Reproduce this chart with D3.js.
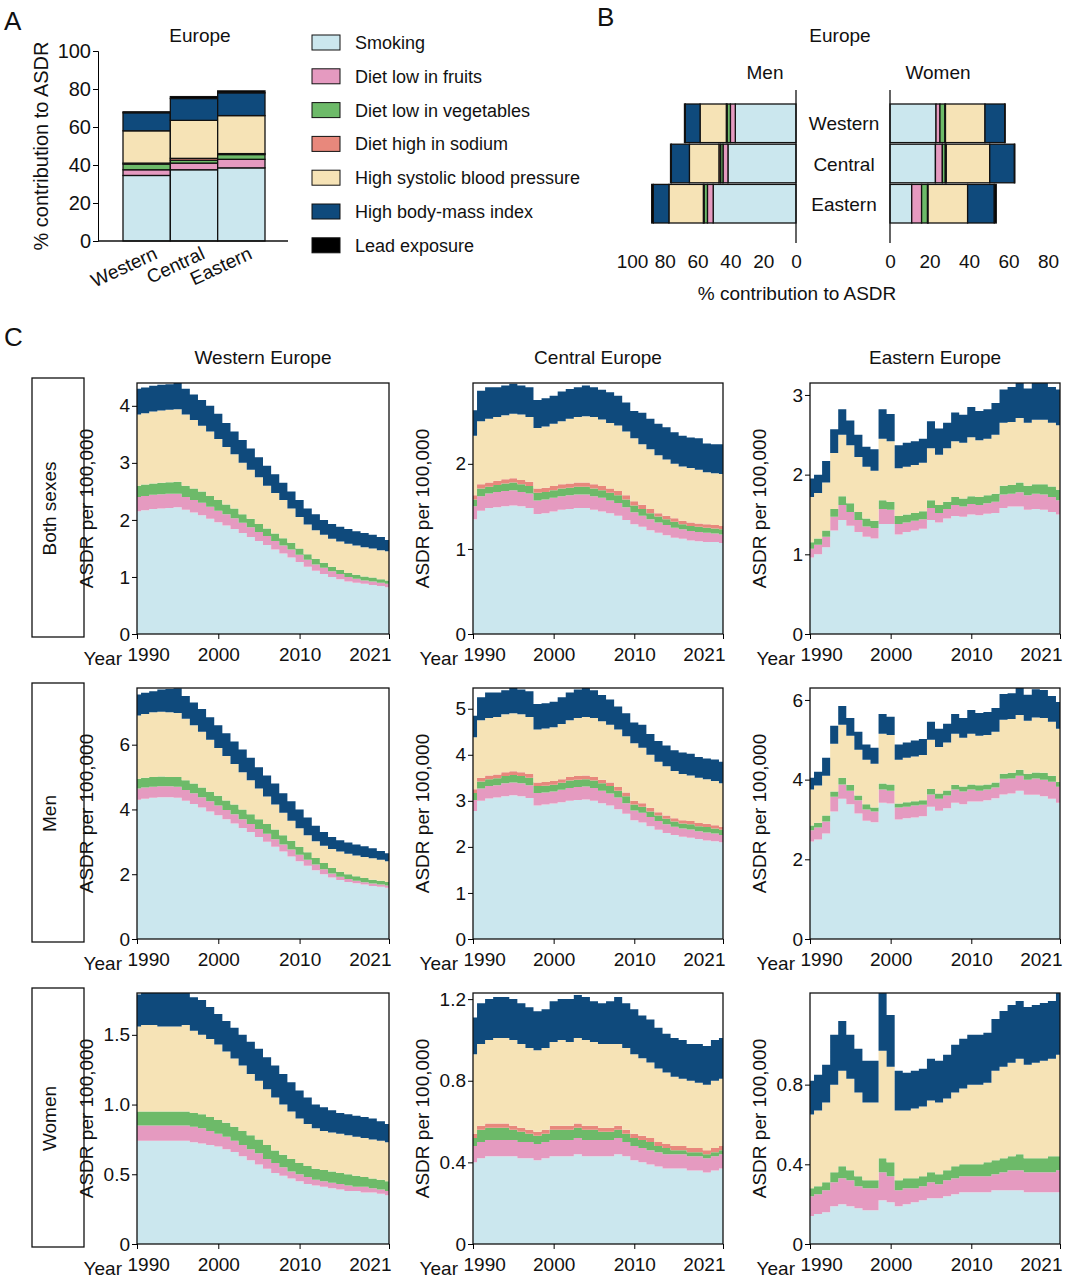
<!DOCTYPE html>
<html lang="en">
<head>
<meta charset="UTF-8">
<title>Europe ASDR risk factors</title>
<script src="https://d3js.org/d3.v7.min.js"></script>
<style>
  body { margin: 0; background: #fff; }
  text { font-family: Arial, "Liberation Sans", sans-serif; fill: #111; }
</style>
</head>
<body>
<svg width="1071" height="1280"></svg>
<script>
// risk factors (order = stack order)
var risks = ["Smoking", "Diet low in fruits", "Diet low in vegetables", "Diet high in sodium",
             "High systolic blood pressure", "High body-mass index", "Lead exposure"];
var colors = ["#cbe7ee", "#e59ac0", "#6dba69", "#e8887c", "#f6e3b6", "#0f4a7c", "#000000"];
var regions = ["Western", "Central", "Eastern"];

// panel A: % contribution, both sexes (per risk, by region)
var aValues = [
  [34.5, 3, 3, 0.5, 17, 9.5, 0.5],
  [37.5, 3.5, 1.5, 1, 20, 11.5, 1],
  [38.5, 4.5, 2.5, 0.5, 20, 12, 1]
];
// panel B
var bMen = [
  [37, 3, 2, 0.5, 16, 9, 0.5],
  [41.5, 3, 1.5, 1, 18, 11, 0.5],
  [50.5, 3.5, 2, 0.5, 21, 9.5, 1]
];
var bWomen = [
  [23.3, 2, 2.5, 0.3, 20, 10, 0.2],
  [23, 3.5, 1.5, 0.5, 22, 12.5, 0.2],
  [11, 5, 3, 0.3, 20, 13.5, 1]
];

// panel C: cumulative top of each layer (ASDR per 100,000), 1990..2021
var years = d3.range(1990, 2022);
var bothWestern = {
  smoking:[2.15,2.17,2.19,2.2,2.21,2.22,2.18,2.13,2.08,2.02,1.96,1.9,1.84,1.77,1.7,1.63,1.56,1.48,1.41,1.34,1.26,1.18,1.11,1.05,1.0,0.96,0.92,0.9,0.88,0.86,0.84,0.82],
  fruits:[2.4,2.42,2.44,2.45,2.46,2.46,2.4,2.35,2.3,2.23,2.16,2.1,2.03,1.95,1.87,1.79,1.72,1.63,1.55,1.48,1.39,1.3,1.22,1.16,1.1,1.05,1.0,0.97,0.94,0.92,0.9,0.88],
  veg:[2.6,2.62,2.64,2.65,2.66,2.67,2.6,2.55,2.5,2.42,2.35,2.27,2.2,2.1,2.02,1.93,1.85,1.76,1.68,1.6,1.5,1.4,1.32,1.25,1.18,1.12,1.07,1.04,1.01,0.99,0.96,0.94],
  sodium:null,
  sbp:[3.85,3.87,3.9,3.92,3.93,3.94,3.85,3.75,3.65,3.55,3.42,3.28,3.15,3.0,2.88,2.75,2.6,2.47,2.35,2.2,2.05,1.92,1.82,1.74,1.67,1.62,1.58,1.55,1.52,1.5,1.47,1.45],
  bmi:[4.3,4.32,4.35,4.37,4.38,4.4,4.3,4.2,4.1,4.0,3.86,3.7,3.55,3.4,3.25,3.1,2.95,2.8,2.65,2.5,2.35,2.2,2.1,2.0,1.93,1.88,1.84,1.8,1.77,1.74,1.7,1.65],
  max:4.4, ticks:[0,1,2,3,4], fmt:"d"
};
var bothCentral = {
  smoking:[1.35,1.45,1.48,1.49,1.5,1.51,1.5,1.48,1.41,1.42,1.44,1.46,1.47,1.48,1.48,1.46,1.44,1.42,1.39,1.34,1.29,1.26,1.22,1.19,1.16,1.13,1.12,1.1,1.09,1.08,1.08,1.07],
  fruits:[1.5,1.62,1.65,1.67,1.68,1.69,1.67,1.65,1.57,1.58,1.6,1.62,1.63,1.64,1.64,1.62,1.6,1.57,1.54,1.49,1.43,1.39,1.35,1.31,1.28,1.25,1.23,1.21,1.2,1.19,1.18,1.17],
  veg:[1.58,1.71,1.73,1.75,1.77,1.78,1.76,1.74,1.66,1.67,1.69,1.71,1.72,1.73,1.73,1.71,1.69,1.66,1.63,1.58,1.51,1.47,1.42,1.38,1.35,1.32,1.29,1.27,1.26,1.25,1.24,1.23],
  sodium:[1.63,1.76,1.78,1.8,1.82,1.83,1.81,1.79,1.71,1.72,1.74,1.76,1.77,1.78,1.78,1.76,1.74,1.71,1.68,1.63,1.56,1.52,1.47,1.42,1.39,1.36,1.33,1.31,1.3,1.29,1.28,1.27],
  sbp:[2.33,2.5,2.53,2.55,2.57,2.59,2.58,2.55,2.42,2.44,2.47,2.5,2.53,2.55,2.56,2.55,2.52,2.48,2.45,2.38,2.3,2.23,2.17,2.1,2.05,2.0,1.97,1.95,1.93,1.9,1.89,1.88],
  bmi:[2.63,2.86,2.9,2.9,2.92,2.94,2.92,2.9,2.75,2.77,2.8,2.85,2.88,2.9,2.92,2.9,2.87,2.84,2.8,2.72,2.62,2.6,2.53,2.47,2.43,2.37,2.33,2.31,2.3,2.24,2.23,2.23],
  max:2.95, ticks:[0,1,2], fmt:"d"
};
var bothEastern = {
  smoking:[0.96,1.0,1.09,1.3,1.43,1.36,1.28,1.22,1.2,1.38,1.38,1.25,1.28,1.3,1.32,1.43,1.4,1.45,1.48,1.47,1.5,1.49,1.51,1.52,1.58,1.6,1.6,1.56,1.57,1.56,1.53,1.5],
  fruits:[1.07,1.12,1.22,1.47,1.62,1.53,1.43,1.35,1.33,1.57,1.56,1.38,1.4,1.42,1.44,1.58,1.52,1.57,1.62,1.6,1.63,1.62,1.64,1.66,1.75,1.76,1.78,1.74,1.76,1.75,1.72,1.68],
  veg:[1.15,1.2,1.3,1.57,1.73,1.64,1.53,1.45,1.42,1.68,1.66,1.48,1.5,1.52,1.54,1.68,1.62,1.66,1.72,1.7,1.73,1.72,1.74,1.76,1.86,1.87,1.9,1.86,1.88,1.88,1.85,1.81],
  sodium:null,
  sbp:[1.72,1.77,1.9,2.27,2.5,2.37,2.22,2.1,2.05,2.45,2.42,2.08,2.1,2.12,2.15,2.33,2.25,2.33,2.42,2.4,2.47,2.43,2.45,2.5,2.65,2.66,2.71,2.65,2.69,2.69,2.65,2.62],
  bmi:[1.95,2.0,2.17,2.57,2.82,2.68,2.5,2.35,2.32,2.82,2.76,2.37,2.4,2.42,2.45,2.67,2.58,2.65,2.78,2.75,2.85,2.8,2.82,2.9,3.07,3.1,3.16,3.08,3.15,3.15,3.1,3.07],
  max:3.15, ticks:[0,1,2,3], fmt:"d"
};
var menWestern = {
  smoking:[4.3,4.33,4.36,4.38,4.38,4.36,4.27,4.17,4.06,3.94,3.82,3.7,3.57,3.43,3.3,3.15,3.0,2.85,2.7,2.55,2.4,2.26,2.12,2.0,1.9,1.82,1.76,1.72,1.68,1.64,1.61,1.58],
  fruits:[4.65,4.68,4.7,4.72,4.72,4.7,4.6,4.5,4.38,4.25,4.12,3.98,3.85,3.7,3.55,3.4,3.25,3.08,2.92,2.76,2.6,2.45,2.3,2.15,2.02,1.92,1.85,1.8,1.75,1.71,1.68,1.65],
  veg:[4.95,4.98,5.0,5.02,5.0,5.0,4.9,4.8,4.68,4.55,4.42,4.28,4.15,4.0,3.85,3.7,3.55,3.38,3.2,3.03,2.85,2.68,2.5,2.35,2.2,2.08,2.0,1.94,1.88,1.83,1.8,1.76],
  sodium:null,
  sbp:[6.9,6.95,7.0,7.02,7.0,6.98,6.8,6.6,6.4,6.15,5.9,5.65,5.4,5.15,4.9,4.65,4.4,4.15,3.9,3.65,3.42,3.2,3.02,2.88,2.78,2.7,2.63,2.58,2.53,2.49,2.45,2.4],
  bmi:[7.55,7.6,7.65,7.7,7.72,7.74,7.5,7.3,7.1,6.85,6.6,6.35,6.1,5.85,5.6,5.3,5.05,4.8,4.5,4.25,4.0,3.75,3.5,3.3,3.15,3.05,2.98,2.92,2.86,2.8,2.72,2.65],
  max:7.75, ticks:[0,2,4,6], fmt:"d"
};
var menCentral = {
  smoking:[2.78,3.0,3.05,3.07,3.1,3.12,3.1,3.06,2.9,2.92,2.94,2.97,3.0,3.02,3.03,3.0,2.95,2.9,2.82,2.72,2.58,2.53,2.45,2.37,2.3,2.26,2.22,2.2,2.17,2.14,2.12,2.1],
  fruits:[3.02,3.27,3.32,3.34,3.38,3.4,3.38,3.34,3.17,3.18,3.2,3.24,3.28,3.3,3.31,3.28,3.22,3.16,3.07,2.95,2.79,2.74,2.65,2.56,2.49,2.44,2.4,2.38,2.34,2.31,2.29,2.26],
  veg:[3.17,3.42,3.47,3.49,3.54,3.56,3.54,3.5,3.32,3.33,3.35,3.39,3.44,3.46,3.47,3.44,3.38,3.32,3.22,3.1,2.92,2.87,2.77,2.68,2.61,2.55,2.51,2.49,2.45,2.43,2.4,2.37],
  sodium:[3.25,3.5,3.55,3.57,3.62,3.64,3.62,3.58,3.4,3.41,3.43,3.47,3.52,3.54,3.55,3.52,3.46,3.4,3.3,3.18,3.0,2.95,2.85,2.75,2.68,2.62,2.58,2.56,2.52,2.5,2.47,2.44],
  sbp:[4.38,4.75,4.8,4.82,4.88,4.9,4.88,4.82,4.55,4.57,4.6,4.67,4.75,4.8,4.82,4.8,4.73,4.65,4.55,4.4,4.25,4.15,4.0,3.85,3.75,3.65,3.58,3.55,3.5,3.47,3.43,3.38],
  bmi:[4.85,5.25,5.35,5.35,5.4,5.45,5.42,5.38,5.1,5.12,5.15,5.25,5.35,5.42,5.45,5.4,5.3,5.2,5.05,4.9,4.7,4.65,4.45,4.3,4.2,4.1,4.05,4.02,3.95,3.92,3.9,3.85],
  max:5.45, ticks:[0,1,2,3,4,5], fmt:"d"
};
var menEastern = {
  smoking:[2.45,2.5,2.65,3.2,3.52,3.38,3.15,2.97,2.93,3.42,3.4,3.0,3.03,3.05,3.08,3.32,3.22,3.28,3.42,3.38,3.45,3.45,3.48,3.53,3.63,3.65,3.72,3.62,3.62,3.58,3.52,3.42],
  fruits:[2.73,2.8,2.95,3.57,3.88,3.72,3.48,3.25,3.2,3.75,3.72,3.3,3.32,3.35,3.37,3.63,3.52,3.6,3.75,3.7,3.75,3.72,3.75,3.8,4.02,4.03,4.1,4.0,4.03,4.0,3.95,3.82],
  veg:[2.85,2.92,3.1,3.7,4.05,3.87,3.6,3.38,3.3,3.9,3.88,3.4,3.43,3.46,3.48,3.77,3.65,3.73,3.87,3.83,3.88,3.86,3.88,3.93,4.15,4.17,4.25,4.15,4.18,4.17,4.1,3.95],
  sodium:null,
  sbp:[3.75,3.85,4.1,4.9,5.38,5.1,4.75,4.5,4.4,5.15,5.12,4.5,4.55,4.58,4.62,5.0,4.82,4.93,5.15,5.05,5.15,5.1,5.12,5.2,5.5,5.52,5.62,5.48,5.56,5.55,5.45,5.28],
  bmi:[4.05,4.2,4.55,5.35,5.85,5.55,5.2,4.88,4.8,5.65,5.58,4.88,4.93,4.98,5.02,5.45,5.28,5.4,5.65,5.55,5.75,5.67,5.7,5.8,6.15,6.17,6.3,6.13,6.27,6.25,6.1,5.95],
  max:6.3, ticks:[0,2,4,6], fmt:"d"
};
var womenWestern = {
  smoking:[0.74,0.74,0.74,0.74,0.74,0.74,0.74,0.73,0.72,0.71,0.7,0.68,0.66,0.63,0.6,0.57,0.54,0.51,0.49,0.47,0.45,0.43,0.42,0.41,0.4,0.39,0.38,0.38,0.37,0.37,0.36,0.35],
  fruits:[0.85,0.85,0.85,0.85,0.85,0.85,0.85,0.84,0.83,0.81,0.79,0.77,0.74,0.71,0.68,0.65,0.61,0.58,0.55,0.52,0.5,0.48,0.46,0.45,0.44,0.43,0.42,0.41,0.41,0.4,0.39,0.38],
  veg:[0.95,0.95,0.95,0.95,0.95,0.95,0.95,0.94,0.93,0.91,0.89,0.87,0.84,0.81,0.78,0.75,0.71,0.67,0.64,0.61,0.58,0.56,0.54,0.53,0.52,0.51,0.5,0.49,0.48,0.47,0.46,0.45],
  sodium:null,
  sbp:[1.56,1.57,1.57,1.56,1.56,1.56,1.57,1.53,1.5,1.47,1.43,1.38,1.33,1.28,1.22,1.17,1.11,1.05,1.0,0.95,0.9,0.86,0.83,0.81,0.8,0.79,0.78,0.77,0.76,0.75,0.74,0.73],
  bmi:[1.79,1.8,1.8,1.8,1.8,1.8,1.8,1.77,1.75,1.7,1.65,1.6,1.55,1.5,1.45,1.4,1.34,1.28,1.22,1.16,1.1,1.05,1.0,0.98,0.96,0.94,0.93,0.92,0.91,0.9,0.88,0.86],
  max:1.8, ticks:[0,0.5,1.0,1.5], fmt:".1f"
};
var womenCentral = {
  smoking:[0.4,0.42,0.43,0.43,0.43,0.43,0.42,0.42,0.41,0.42,0.43,0.43,0.43,0.44,0.43,0.43,0.43,0.43,0.44,0.43,0.41,0.4,0.39,0.38,0.37,0.37,0.37,0.36,0.36,0.35,0.36,0.37],
  fruits:[0.48,0.5,0.51,0.51,0.51,0.51,0.5,0.5,0.49,0.5,0.51,0.51,0.51,0.52,0.51,0.51,0.51,0.51,0.52,0.5,0.48,0.47,0.46,0.45,0.44,0.44,0.44,0.43,0.43,0.42,0.43,0.44],
  veg:[0.52,0.56,0.57,0.57,0.57,0.56,0.55,0.54,0.53,0.54,0.56,0.56,0.56,0.57,0.56,0.56,0.55,0.55,0.56,0.54,0.52,0.51,0.5,0.48,0.47,0.46,0.46,0.45,0.45,0.44,0.45,0.46],
  sodium:[0.54,0.58,0.59,0.59,0.59,0.58,0.57,0.56,0.55,0.56,0.58,0.58,0.58,0.59,0.58,0.58,0.57,0.57,0.58,0.56,0.54,0.53,0.52,0.5,0.49,0.48,0.48,0.47,0.47,0.46,0.47,0.48],
  sbp:[0.93,0.98,1.0,1.01,1.01,1.0,0.98,0.96,0.95,0.96,0.99,1.0,0.99,1.01,1.0,0.99,0.98,0.98,0.98,0.96,0.93,0.91,0.89,0.86,0.84,0.82,0.81,0.8,0.79,0.78,0.8,0.81],
  bmi:[1.11,1.18,1.2,1.21,1.21,1.2,1.18,1.16,1.14,1.15,1.19,1.2,1.2,1.22,1.21,1.19,1.18,1.19,1.21,1.18,1.15,1.12,1.1,1.06,1.03,1.01,1.0,0.98,0.98,0.97,1.0,1.01],
  max:1.23, ticks:[0,0.4,0.8,1.2], fmt:".1f"
};
var womenEastern = {
  smoking:[0.14,0.15,0.16,0.19,0.2,0.19,0.18,0.17,0.17,0.22,0.21,0.19,0.2,0.21,0.22,0.23,0.23,0.24,0.25,0.26,0.26,0.26,0.26,0.27,0.27,0.27,0.27,0.26,0.26,0.26,0.26,0.26],
  fruits:[0.24,0.25,0.27,0.31,0.33,0.32,0.29,0.28,0.28,0.36,0.34,0.27,0.28,0.28,0.29,0.31,0.3,0.32,0.33,0.34,0.34,0.34,0.34,0.35,0.36,0.37,0.37,0.36,0.36,0.36,0.36,0.37],
  veg:[0.28,0.29,0.31,0.36,0.39,0.37,0.34,0.32,0.32,0.43,0.41,0.32,0.33,0.33,0.34,0.36,0.35,0.37,0.39,0.4,0.4,0.4,0.41,0.42,0.43,0.44,0.45,0.43,0.43,0.43,0.44,0.44],
  sodium:null,
  sbp:[0.65,0.67,0.71,0.8,0.87,0.83,0.76,0.71,0.71,0.97,0.89,0.67,0.67,0.68,0.69,0.72,0.71,0.73,0.76,0.78,0.8,0.8,0.81,0.87,0.89,0.91,0.93,0.9,0.91,0.92,0.93,0.95],
  bmi:[0.82,0.85,0.9,1.05,1.12,1.05,0.98,0.92,0.92,1.26,1.15,0.87,0.86,0.87,0.88,0.93,0.92,0.95,1.0,1.03,1.05,1.05,1.06,1.13,1.17,1.2,1.22,1.19,1.2,1.21,1.22,1.26],
  max:1.26, ticks:[0,0.4,0.8], fmt:".1f"
};

var svg = d3.select("svg");
var font = 19;

// ---------- panel A ----------
svg.append("text").attr("x", 4).attr("y", 30).text("A").style("font-size", "26px");
var aX = d3.scaleBand().domain(regions).range([123, 265]).paddingInner(0);
var aY = d3.scaleLinear().domain([0, 100]).range([241, 51]);
var gA = svg.append("g");
aValues.forEach(function (vals, i) {
  var acc = 0;
  vals.forEach(function (v, k) {
    gA.append("rect").attr("x", aX(regions[i])).attr("width", aX.bandwidth())
      .attr("y", aY(acc + v)).attr("height", aY(acc) - aY(acc + v))
      .attr("fill", colors[k]).attr("stroke", "#111").attr("stroke-width", 1.3);
    acc += v;
  });
});
var axA = svg.append("g").attr("transform", "translate(98,0)")
  .call(d3.axisLeft(aY).tickValues([0, 20, 40, 60, 80, 100]).tickSize(5).tickPadding(2));
axA.selectAll("text").style("font-size", "20px");
svg.append("line").attr("x1", 98).attr("x2", 288).attr("y1", 241).attr("y2", 241).attr("stroke", "#111").attr("stroke-width", 1.3);
svg.append("text").attr("transform", "translate(48,146) rotate(-90)").attr("text-anchor", "middle")
  .text("% contribution to ASDR").style("font-size", "20px");
svg.append("text").attr("x", 200).attr("y", 42).attr("text-anchor", "middle").text("Europe").style("font-size", font + "px");
regions.forEach(function (r) {
  var cx = aX(r) + aX.bandwidth() / 2 + 12;
  svg.append("text").attr("transform", "translate(" + cx + ",258) rotate(-25)").attr("text-anchor", "end")
    .text(r).style("font-size", font + "px");
});

// legend
risks.forEach(function (r, k) {
  var y = 43 + k * 33.8;
  svg.append("rect").attr("x", 312).attr("y", y - 8).attr("width", 28).attr("height", 15)
    .attr("fill", colors[k]).attr("stroke", "#111").attr("stroke-width", 1);
  svg.append("text").attr("x", 355).attr("y", y + 6).text(r).style("font-size", "18px");
});

// ---------- panel B ----------
svg.append("text").attr("x", 597).attr("y", 26).text("B").style("font-size", "26px");
svg.append("text").attr("x", 840).attr("y", 42).attr("text-anchor", "middle").text("Europe").style("font-size", font + "px");
svg.append("text").attr("x", 765).attr("y", 79).attr("text-anchor", "middle").text("Men").style("font-size", font + "px");
svg.append("text").attr("x", 938).attr("y", 79).attr("text-anchor", "middle").text("Women").style("font-size", font + "px");
var bY = d3.scaleBand().domain(regions).range([104, 223]).paddingInner(0.04);
var xMen = d3.scaleLinear().domain([0, 100]).range([796, 632]);
var xWomen = d3.scaleLinear().domain([0, 80]).range([890, 1048]);
function drawB(data, xs) {
  data.forEach(function (vals, i) {
    var acc = 0;
    vals.forEach(function (v, k) {
      var x0 = xs(acc), x1 = xs(acc + v);
      svg.append("rect").attr("x", Math.min(x0, x1)).attr("width", Math.abs(x1 - x0))
        .attr("y", bY(regions[i])).attr("height", bY.bandwidth())
        .attr("fill", colors[k]).attr("stroke", "#111").attr("stroke-width", 1.3);
      acc += v;
    });
  });
}
drawB(bMen, xMen);
drawB(bWomen, xWomen);
var axM = svg.append("g").attr("transform", "translate(0,243)")
  .call(d3.axisBottom(xMen).tickValues([0, 20, 40, 60, 80, 100]).tickSize(0).tickPadding(12));
var axW = svg.append("g").attr("transform", "translate(0,243)")
  .call(d3.axisBottom(xWomen).tickValues([0, 20, 40, 60, 80]).tickSize(0).tickPadding(12));
[axM, axW].forEach(function (g) { g.select(".domain").remove(); g.selectAll("text").style("font-size", font + "px"); });
[796, 890].forEach(function (x) {
  svg.append("line").attr("x1", x).attr("x2", x).attr("y1", 90).attr("y2", 243).attr("stroke", "#111").attr("stroke-width", 1.3);
});
regions.forEach(function (r) {
  svg.append("text").attr("x", 844).attr("y", bY(r) + bY.bandwidth() / 2 + 7).attr("text-anchor", "middle")
    .text(r).style("font-size", font + "px");
});
svg.append("text").attr("x", 797).attr("y", 300).attr("text-anchor", "middle").text("% contribution to ASDR").style("font-size", font + "px");

// ---------- panel C ----------
svg.append("text").attr("x", 4).attr("y", 346).text("C").style("font-size", "26px");
var cols = [{x0: 137, x1: 389, title: "Western Europe"}, {x0: 473, x1: 723, title: "Central Europe"}, {x0: 810, x1: 1060, title: "Eastern Europe"}];
var rows = [{y0: 383, y1: 634, label: "Both sexes"}, {y0: 688, y1: 939, label: "Men"}, {y0: 993, y1: 1244, label: "Women"}];
var panels = [[bothWestern, bothCentral, bothEastern], [menWestern, menCentral, menEastern], [womenWestern, womenCentral, womenEastern]];
var layerKeys = ["smoking", "fruits", "veg", "sodium", "sbp", "bmi"];

cols.forEach(function (c) {
  svg.append("text").attr("x", (c.x0 + c.x1) / 2).attr("y", 364).attr("text-anchor", "middle").text(c.title).style("font-size", font + "px");
});
rows.forEach(function (r) {
  svg.append("rect").attr("x", 32).attr("y", r.y0 - 5).attr("width", 52).attr("height", r.y1 - r.y0 + 8)
    .attr("fill", "none").attr("stroke", "#111").attr("stroke-width", 1.3);
  svg.append("text").attr("transform", "translate(" + 56 + "," + ((r.y0 + r.y1) / 2) + ") rotate(-90)")
    .attr("text-anchor", "middle").text(r.label).style("font-size", font + "px");
});

panels.forEach(function (row, ri) {
  row.forEach(function (p, ci) {
    var c = cols[ci], r = rows[ri];
    var x = d3.scaleLinear().domain([1990, 2021]).range([c.x0, c.x1]);
    var y = d3.scaleLinear().domain([0, p.max]).range([r.y1, r.y0]);
    var g = svg.append("g");
    var prev = null;
    layerKeys.forEach(function (key, k) {
      var top = p[key];
      if (!top) return;
      var base = prev;
      var area = d3.area().curve(d3.curveStep)
        .x(function (d, i) { return x(years[i]); })
        .y0(function (d, i) { return y(base ? base[i] : 0); })
        .y1(function (d) { return y(Math.min(d, p.max)); });
      g.append("path").datum(top).attr("d", area).attr("fill", colors[k]);
      prev = top;
    });
    g.append("rect").attr("x", c.x0).attr("y", r.y0).attr("width", c.x1 - c.x0).attr("height", r.y1 - r.y0)
      .attr("fill", "none").attr("stroke", "#111").attr("stroke-width", 1.3);
    var ya = g.append("g").attr("transform", "translate(" + c.x0 + ",0)")
      .call(d3.axisLeft(y).tickValues(p.ticks).tickFormat(function (v) { return v === 0 ? "0" : d3.format(p.fmt)(v); }).tickSize(5).tickPadding(2));
    ya.select(".domain").remove();
    ya.selectAll("text").style("font-size", font + "px");
    var xa = g.append("g").attr("transform", "translate(0," + r.y1 + ")")
      .call(d3.axisBottom(x).tickValues([1990, 2000, 2010, 2021]).tickFormat(d3.format("d")).tickSize(5).tickPadding(9));
    xa.select(".domain").remove();
    xa.selectAll("text").style("font-size", font + "px")
      .attr("text-anchor", function (d) { return d === 1990 ? "start" : d === 2021 ? "end" : "middle"; })
      .attr("dx", function (d) { return d === 1990 ? "-10" : d === 2021 ? "2" : "0"; });
    g.append("text").attr("x", c.x0 - 15).attr("y", r.y1 + 31).attr("text-anchor", "end").text("Year").style("font-size", font + "px");
    g.append("text").attr("transform", "translate(" + (c.x0 - 44) + "," + ((r.y0 + r.y1) / 2) + ") rotate(-90)")
      .attr("text-anchor", "middle").text("ASDR per 100,000").style("font-size", font + "px");
  });
});
</script>
</body>
</html>
